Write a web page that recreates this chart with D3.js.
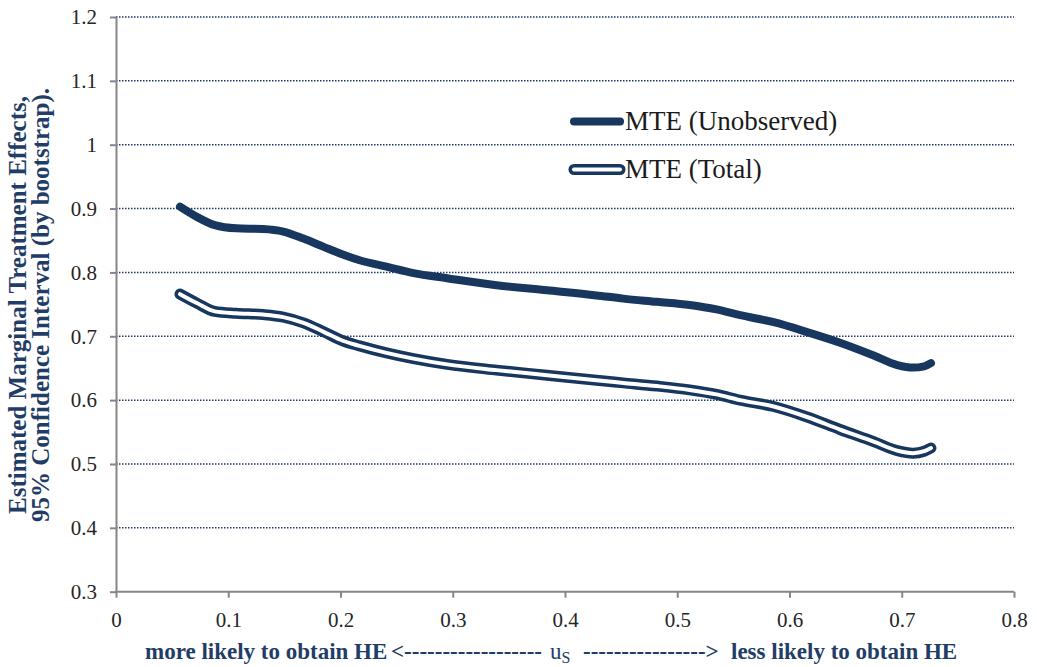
<!DOCTYPE html>
<html>
<head>
<meta charset="utf-8">
<script src="https://cdn.jsdelivr.net/npm/d3@7"></script>
<style>
  html, body { margin: 0; padding: 0; background: #fff; }
  svg { display: block; }
  text { font-family: "Liberation Serif", "Times New Roman", serif; }
</style>
</head>
<body>
<svg id="chart" width="1037" height="667"></svg>
<script>
// u_S grid shared by both curves
const uS = [0.057, 0.072, 0.088, 0.107, 0.131, 0.149, 0.167, 0.185, 0.202, 0.217,
            0.241, 0.265, 0.295, 0.339, 0.384, 0.428, 0.452, 0.482, 0.511, 0.535,
            0.556, 0.586, 0.615, 0.645, 0.675, 0.696, 0.710, 0.720, 0.726];

// MTE attributable to unobserved heterogeneity
const mteUnobserved = [0.903, 0.887, 0.874, 0.869, 0.868, 0.864, 0.853, 0.840, 0.828, 0.819,
                       0.809, 0.799, 0.791, 0.780, 0.772, 0.764, 0.759, 0.754, 0.749, 0.742,
                       0.733, 0.722, 0.707, 0.690, 0.670, 0.655, 0.651, 0.653, 0.658];

// Total MTE
const mteTotal = [0.766, 0.752, 0.739, 0.736, 0.734, 0.730, 0.721, 0.707, 0.693, 0.685,
                  0.674, 0.665, 0.656, 0.647, 0.639, 0.631, 0.627, 0.622, 0.616, 0.609,
                  0.600, 0.590, 0.574, 0.554, 0.535, 0.521, 0.517, 0.520, 0.525];

const xTicks = [0, 0.1, 0.2, 0.3, 0.4, 0.5, 0.6, 0.7, 0.8];
const yTicks = [0.3, 0.4, 0.5, 0.6, 0.7, 0.8, 0.9, 1, 1.1, 1.2];

const seriesNames = ["MTE (Unobserved)", "MTE (Total)"];

const navy = "#17375E";
const titleColor = "#1F3D66";

const svg = d3.select("#chart");
const plot = { left: 116, right: 1014, top: 17, bottom: 591.7 };

const x = d3.scaleLinear().domain([0, 0.8]).range([plot.left, plot.right]);
const y = d3.scaleLinear().domain([0.3, 1.2]).range([plot.bottom, plot.top]);

// dotted horizontal gridlines
svg.append("g")
  .selectAll("line")
  .data(yTicks.filter(t => t > 0.3))
  .join("line")
  .attr("x1", plot.left).attr("x2", plot.right)
  .attr("y1", d => y(d)).attr("y2", d => y(d))
  .attr("stroke", "#1F3864")
  .attr("stroke-width", 1.5)
  .attr("stroke-dasharray", "1.5,1.5");

// axes
const fmt = d => (d === 0 ? "0" : String(+d.toFixed(1)));

const yAxis = svg.append("g")
  .attr("transform", `translate(${plot.left},0)`)
  .call(d3.axisLeft(y).tickValues(yTicks).tickFormat(fmt).tickSize(6).tickPadding(13).tickSizeOuter(0));

const xAxis = svg.append("g")
  .attr("transform", `translate(0,${plot.bottom})`)
  .call(d3.axisBottom(x).tickValues(xTicks).tickFormat(fmt).tickSize(6).tickPadding(14).tickSizeOuter(0));

[yAxis, xAxis].forEach(g => {
  g.select(".domain").attr("stroke", "#868686").attr("stroke-width", 2);
  g.selectAll(".tick line").attr("stroke", "#868686").attr("stroke-width", 2);
  g.selectAll(".tick text")
    .attr("fill", "#262626")
    .style("font-family", '"Liberation Serif", serif')
    .style("font-size", "21px");
});
// keep the x axis line covering the bottom of the y axis
xAxis.select(".domain").attr("d", `M${plot.left - 1},0H${plot.right}`);

// curves
const line = d3.line()
  .x(d => x(d[0]))
  .y(d => y(d[1]))
  .curve(d3.curveMonotoneX);

const unobsPts = uS.map((u, i) => [u, mteUnobserved[i]]);
const totalPts = uS.map((u, i) => [u, mteTotal[i]]);

svg.append("path")
  .datum(unobsPts)
  .attr("d", line)
  .attr("fill", "none")
  .attr("stroke", navy)
  .attr("stroke-width", 8)
  .attr("stroke-linecap", "round")
  .attr("stroke-linejoin", "round");

// outlined (double) line for the total
const totalG = svg.append("g");
totalG.append("path")
  .datum(totalPts)
  .attr("d", line)
  .attr("fill", "none")
  .attr("stroke", navy)
  .attr("stroke-width", 11)
  .attr("stroke-linecap", "round")
  .attr("stroke-linejoin", "round");
totalG.append("path")
  .datum(totalPts)
  .attr("d", line)
  .attr("fill", "none")
  .attr("stroke", "#fff")
  .attr("stroke-width", 4)
  .attr("stroke-linecap", "round")
  .attr("stroke-linejoin", "round");

// legend
const legend = svg.append("g").attr("transform", "translate(574,0)");
const legendRows = [
  { name: seriesNames[0], y: 121.5, outline: false },
  { name: seriesNames[1], y: 169.5, outline: true }
];
legendRows.forEach(r => {
  const g = legend.append("g").attr("transform", `translate(0,${r.y})`);
  g.append("line").attr("x1", 0).attr("x2", 46)
    .attr("stroke", navy).attr("stroke-width", r.outline ? 11 : 8)
    .attr("stroke-linecap", "round");
  if (r.outline) {
    g.append("line").attr("x1", 0).attr("x2", 46)
      .attr("stroke", "#fff").attr("stroke-width", 4)
      .attr("stroke-linecap", "round");
  }
  g.append("text")
    .attr("x", 51).attr("y", 8.5)
    .attr("fill", "#1a1a1a")
    .style("font-size", "27px")
    .text(r.name);
});

// y axis title (two lines)
const yTitle = svg.append("text")
  .attr("transform", "translate(0,305) rotate(-90)")
  .attr("text-anchor", "middle")
  .attr("fill", titleColor)
  .style("font-weight", "bold")
  .style("font-size", "25px");
yTitle.append("tspan").attr("x", 0).attr("y", 26).text("Estimated Marginal Treatment Effects,");
yTitle.append("tspan").attr("x", 0).attr("y", 49).text("95% Confidence Interval (by bootstrap).");

// x axis title, laid out segment by segment
const xTitle = svg.append("text")
  .attr("y", 659)
  .attr("fill", titleColor)
  .style("font-size", "23px");
xTitle.append("tspan").attr("x", 145).style("font-weight", "bold").text("more likely to obtain HE");
xTitle.append("tspan").attr("x", 391).style("font-weight", "bold").text("<------------------");
xTitle.append("tspan").attr("x", 550).text("u");
xTitle.append("tspan").attr("dy", 4).style("font-size", "16px").text("S");
xTitle.append("tspan").attr("x", 583).attr("dy", -4).style("font-weight", "bold").text("---------------->");
xTitle.append("tspan").attr("x", 731).style("font-weight", "bold").text("less likely to obtain HE");
</script>
</body>
</html>
